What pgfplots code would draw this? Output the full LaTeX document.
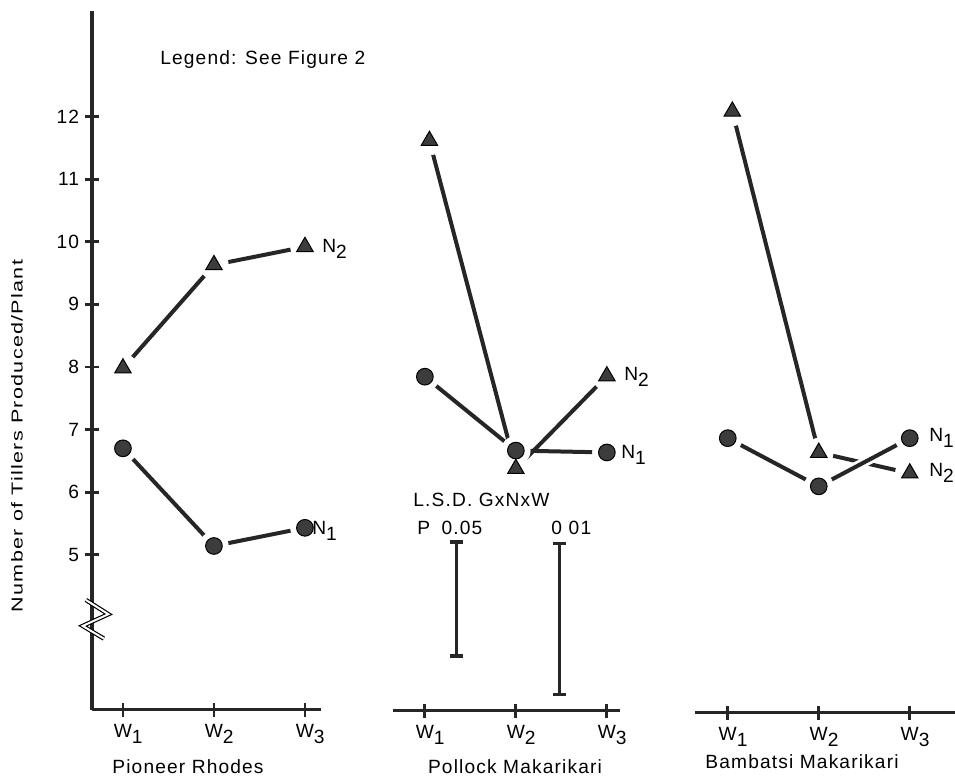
\documentclass[border=0pt]{standalone}
\usepackage{fontspec}
\setmainfont{Liberation Sans}[LetterSpace=6]
\usepackage{pgfplots}
\pgfplotsset{compat=1.18}
\definecolor{ink}{HTML}{262626}
\definecolor{mk}{HTML}{3C3C3C}
\newcommand\sub[1]{\raisebox{-0.6ex}{#1}}
\pgfplotsset{
  panel/.style={
    x=54.6pt, y=37.56pt, ymin=2.52, ymax=13.68,
    scale only axis, clip=false,
    xtick={1,2,3},
    xticklabels={W\rlap{\sub{1}},W\rlap{\sub{2}},W\rlap{\sub{3}}},
    tick align=outside,
    major tick length=8.4pt,
    tick style={line width=1.7pt, ink},
    tick label style={font=\fontsize{11.5}{13}\selectfont},
    xticklabel style={yshift=-1pt},
    /pgf/number format/assume math mode=true,
  },
  lines/.style={
    x axis line style={-, line width=1.8pt, ink},
    y axis line style={-, line width=1.9pt, ink},
  },
  ln/.style={ink, line width=2.4pt, no marks},
  halo/.style={only marks, mark=*, mark size=8.6pt, mark options={fill=white, draw=white}},
  tri/.style={only marks, mark=triangle*, mark size=5.7pt, mark options={fill=mk, draw=black, line width=0.6pt}},
  circ/.style={only marks, mark=*, mark size=5pt, mark options={fill=mk, draw=black, line width=0.6pt}},
}
\begin{document}
\begin{tikzpicture}[font=\fontsize{11.5}{13}\selectfont]
\useasboundingbox (0,0) rectangle (573pt,468pt);
% ---------------- Pioneer Rhodes
\begin{axis}[panel, at={(55.2pt,42pt)}, anchor=south west,
  xmin=0.66, xmax=3.18,
  axis x line=bottom, axis y line=left, lines,
  ytick={5,6,7,8,9,10,11,12}]
\addplot[ln] coordinates {(1,7.98) (2,9.63) (3,9.92)};
\addplot[ln] coordinates {(1,6.70) (2,5.14) (3,5.43)};
\addplot[halo] coordinates {(1,7.98) (2,9.63) (3,9.92) (1,6.70) (2,5.14) (3,5.43)};
\addplot[tri] coordinates {(1,7.98) (2,9.63) (3,9.92)};
\addplot[circ] coordinates {(1,6.70) (2,5.14) (3,5.43)};
\draw[black, line width=0.7pt, double=white, double distance=1.2pt]
  (0.593,4.278) -- (0.84,4.05) -- (0.558,3.863) -- (0.79,3.661);
\end{axis}
% ---------------- Pollock Makarikari
\begin{axis}[panel, at={(235.8pt,41.4pt)}, anchor=south west,
  xmin=0.65, xmax=3.14, ymin=2.50,
  axis x line=bottom, axis y line=none, lines, ytick=\empty]
\addplot[ln] coordinates {(1.05,11.61) (2,6.37) (3,7.85)};
\addplot[ln] coordinates {(1,7.84) (2,6.66) (3,6.63)};
\addplot[halo] coordinates {(1.05,11.61) (2,6.37) (3,7.85) (1,7.84) (2,6.66) (3,6.63)};
\addplot[tri] coordinates {(1.05,11.61) (2,6.37) (3,7.85)};
\addplot[circ] coordinates {(1,7.84) (2,6.66) (3,6.63)};
% L.S.D. bars
\addplot[ink, line width=1.8pt, mark=-, mark size=4pt, mark options={line width=2pt}]
  coordinates {(1.35,5.20) (1.35,3.38)};
\addplot[ink, line width=1.8pt, mark=-, mark size=4pt, mark options={line width=2pt}]
  coordinates {(2.48,5.18) (2.48,2.76)};
\end{axis}
% ---------------- Bambatsi Makarikari
\begin{axis}[panel, at={(417pt,40.2pt)}, anchor=south west,
  xmin=0.64, xmax=3.7, ymin=2.48,
  axis x line=bottom, axis y line=none, lines, ytick=\empty]
\addplot[ln] coordinates {(1.05,12.09) (2,6.64) (3,6.31)};
\addplot[ln, preaction={draw=white, line width=5.8pt}] coordinates {(1,6.87) (2,6.10) (3,6.87)};
\addplot[halo] coordinates {(1.05,12.09) (2,6.64) (3,6.31) (1,6.87) (2,6.10) (3,6.87)};
\addplot[tri] coordinates {(1.05,12.09) (2,6.64) (3,6.31)};
\addplot[circ] coordinates {(1,6.87) (2,6.10) (3,6.87)};
\end{axis}
% ---------------- texts (pixel coordinates)
\begin{scope}[x=0.6pt, y=-0.6pt, shift={(0pt,468pt)}]
\node[anchor=west, inner sep=0pt] at (160,60) {Legend: See Figure 2};
\node[rotate=90, inner sep=0pt] at (17,436)
  {\scalebox{1.36}[1]{\fontsize{9.5}{10}\selectfont Number of Tillers Produced/Plant}};
\node[anchor=west, inner sep=0pt] at (322,249) {N\sub{2}};
\node[anchor=west, inner sep=0pt] at (312,531) {N\sub{1}};
\node[anchor=west, inner sep=0pt] at (624,377) {N\sub{2}};
\node[anchor=west, inner sep=0pt] at (621,455) {N\sub{1}};
\node[anchor=west, inner sep=0pt] at (929,438) {N\sub{1}};
\node[anchor=west, inner sep=0pt] at (929,473) {N\sub{2}};
\node[anchor=west, inner sep=0pt] at (413,500) {L.S.D. GxNxW};
\node[anchor=west, inner sep=0pt] at (417,528) {P\hspace{0.6em}0.05};
\node[anchor=west, inner sep=0pt] at (551,528) {0\hspace{0.35em}01};
\node[inner sep=0pt] at (188,767) {Pioneer Rhodes};
\node[inner sep=0pt] at (515,767) {Pollock Makarikari};
\node[inner sep=0pt] at (802,762) {Bambatsi Makarikari};
\end{scope}
\end{tikzpicture}
\end{document}
